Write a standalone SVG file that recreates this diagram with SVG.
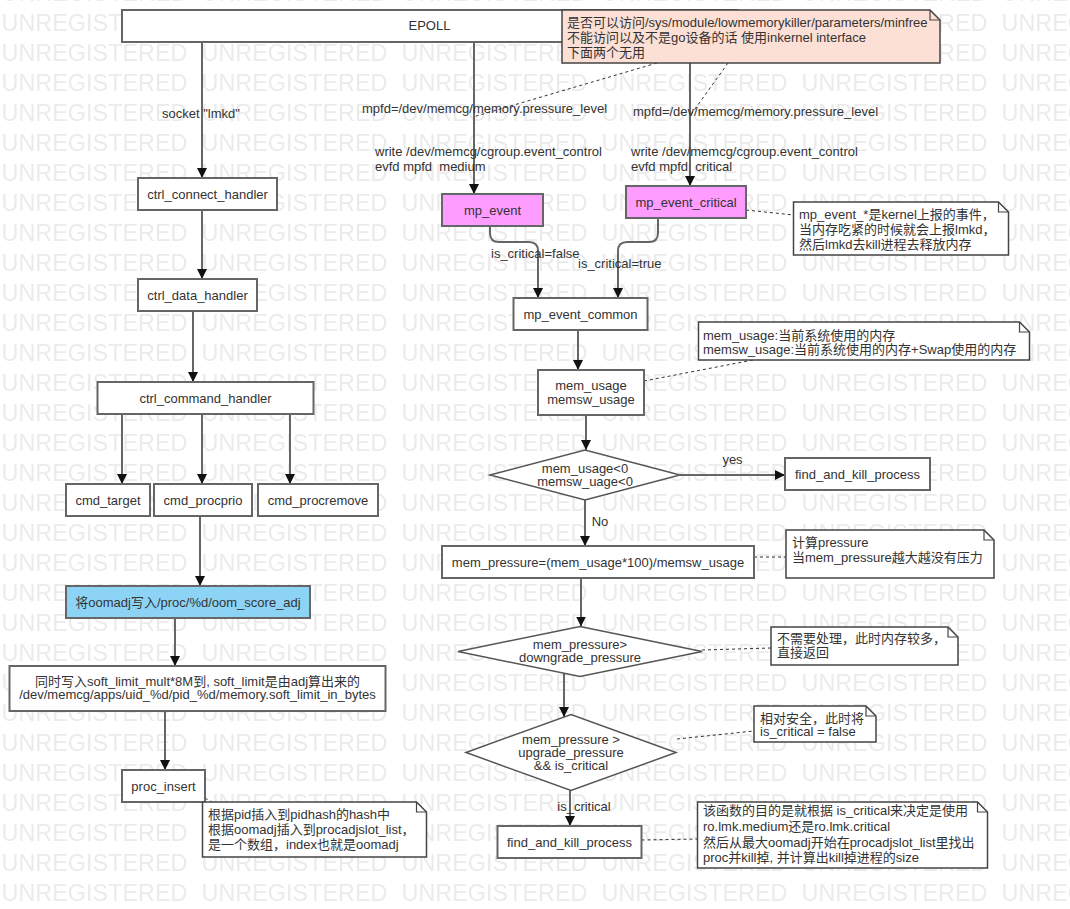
<svg xmlns="http://www.w3.org/2000/svg" width="1070" height="909" viewBox="0 0 1070 909">
<style>
.t{font-family:"Liberation Sans",Arial,"Noto Sans CJK SC",sans-serif;font-size:13px;fill:#333}
.m{text-anchor:middle}
.wmt{font-family:"Liberation Sans",Arial,sans-serif;font-size:23px;fill:#ebebeb}
.box{fill:#fff;stroke:#666;stroke-width:2}
.pink{fill:#ff9cff}
.blue{fill:#8dd3f6}
.note{fill:#fff;stroke:#444;stroke-width:1.5}
.salmon{fill:#fde0d5}
.fold{fill:none;stroke:#444;stroke-width:1.2}
.dia{fill:#fff;stroke:#555;stroke-width:1.5}
.ln{fill:none;stroke:#666;stroke-width:2;marker-end:url(#ah)}
.dash{fill:none;stroke:#333;stroke-width:1;stroke-dasharray:3 3}
</style>
<defs>
<marker id="ah" markerUnits="userSpaceOnUse" markerWidth="10" markerHeight="10" refX="10" refY="5" orient="auto">
<path d="M0,0 L10,5 L0,10 Z" fill="#111"/>
</marker>
<pattern id="wm" x="0" y="9" width="200" height="30" patternUnits="userSpaceOnUse">
<text class="wmt" x="1.5" y="22" textLength="186" lengthAdjust="spacingAndGlyphs">UNREGISTERED</text>
</pattern>
</defs>
<rect width="1070" height="909" fill="#fff"/>
<rect width="1070" height="909" fill="url(#wm)"/>

<g id="connectors">
<path class="ln" d="M202,42 V178"/>
<path class="ln" d="M202,210 V279"/>
<path class="ln" d="M193,311 V382"/>
<path class="ln" d="M122,414 V484"/>
<path class="ln" d="M202,414 V484"/>
<path class="ln" d="M290,414 V484"/>
<path class="ln" d="M200,516 V586"/>
<path class="ln" d="M175,618 V666"/>
<path class="ln" d="M165,711 V770"/>
<path class="dash" d="M205,798 L212,802"/>
<path class="ln" d="M474,42 V194"/>
<path class="ln" d="M690,42 V186"/>
<path class="dash" d="M657,63 L473,117"/>
<path class="dash" d="M728,63 L690,116"/>
<path class="dash" d="M746,210 L793.5,215"/>
<path class="ln" d="M490,226 V233 Q490,242 499,242 H529 Q538,242 538,251 V298"/>
<path class="ln" d="M658,218 V233 Q658,242 649,242 H627 Q618,242 618,251 V298"/>
<path class="ln" d="M578,330 V370"/>
<path class="dash" d="M644,381 L753,360"/>
<path class="ln" d="M586,415 V450"/>
<path class="ln" d="M680,475 H785"/>
<path class="ln" d="M585,500 V546"/>
<path class="dash" d="M754,557 H786"/>
<path class="ln" d="M581,578 V626.5"/>
<path class="dash" d="M702,650 L771,648"/>
<path class="ln" d="M564,673 V717"/>
<path class="dash" d="M677,739 L754,731"/>
<path class="ln" d="M570,790.5 V826"/>
<path class="dash" d="M641.5,840 L697.5,839"/>
<text class="t m" x="201" y="117.5">socket "lmkd"</text>
<text class="t" x="362" y="112.5">mpfd=/dev/memcg/memory.pressure_level</text>
<text class="t" x="375" y="155.5">write /dev/memcg/cgroup.event_control</text>
<text class="t" x="375" y="170.5">evfd mpfd&#160; medium</text>
<text class="t" x="633" y="115.5">mpfd=/dev/memcg/memory.pressure_level</text>
<text class="t" x="631" y="155.5">write /dev/memcg/cgroup.event_control</text>
<text class="t" x="631" y="170.5">evfd mpfd&#160; critical</text>
<text class="t" x="491" y="257.5">is_critical=false</text>
<text class="t" x="578" y="267.5">is_critical=true</text>
<text class="t m" x="732.5" y="463.5">yes</text>
<text class="t m" x="600" y="525.5">No</text>
<text class="t m" x="584" y="811">is_critical</text>
</g>

<g id="epoll"><rect class="box" x="122" y="10" width="615" height="32"/><text class="t m" x="429.5" y="30">EPOLL</text></g>
<g id="note-minfree">
<path class="note salmon" d="M562,10 H930 L940,20 V63 H562 Z"/><path class="fold" d="M930,10 V20 H940"/>
<text class="t" x="567" y="27.2">是否可以访问/sys/module/lowmemorykiller/parameters/minfree</text>
<text class="t" x="567" y="42.2">不能访问以及不是go设备的话 使用inkernel interface</text>
<text class="t" x="567" y="57.2">下面两个无用</text>
</g>
<g id="ctrl-connect-handler"><rect class="box" x="138" y="178" width="139" height="32"/><text class="t m" x="207.5" y="198.5">ctrl_connect_handler</text></g>
<g id="ctrl-data-handler"><rect class="box" x="138" y="279" width="119" height="32"/><text class="t m" x="197.5" y="299.5">ctrl_data_handler</text></g>
<g id="ctrl-command-handler"><rect class="box" x="97.5" y="382" width="216" height="32"/><text class="t m" x="205.5" y="402.5">ctrl_command_handler</text></g>
<g id="cmd-target"><rect class="box" x="66" y="484" width="84" height="32"/><text class="t m" x="108" y="504.5">cmd_target</text></g>
<g id="cmd-procprio"><rect class="box" x="154" y="484" width="98" height="32"/><text class="t m" x="203" y="504.5">cmd_procprio</text></g>
<g id="cmd-procremove"><rect class="box" x="258" y="484" width="120" height="32"/><text class="t m" x="318" y="504.5">cmd_procremove</text></g>
<g id="write-oomadj"><rect class="box blue" x="66" y="586" width="244" height="32"/><text class="t m" x="188" y="606.5">将oomadj写入/proc/%d/oom_score_adj</text></g>
<g id="soft-limit"><rect class="box" x="9.5" y="666" width="376" height="45"/>
<text class="t m" x="197.5" y="686">同时写入soft_limit_mult*8M到, soft_limit是由adj算出来的</text>
<text class="t m" x="197.5" y="699">/dev/memcg/apps/uid_%d/pid_%d/memory.soft_limit_in_bytes</text></g>
<g id="proc-insert"><rect class="box" x="122" y="770" width="83" height="32"/><text class="t m" x="163.5" y="790.5">proc_insert</text></g>
<g id="note-proc-insert">
<path class="note" d="M202.5,802 H416.5 L426.5,812 V857 H202.5 Z"/><path class="fold" d="M416.5,802 V812 H426.5"/>
<text class="t" x="208" y="818.8">根据pid插入到pidhash的hash中</text>
<text class="t" x="208" y="833.8">根据oomadj插入到procadjslot_list，</text>
<text class="t" x="208" y="848.8">是一个数组，index也就是oomadj</text>
</g>
<g id="mp-event"><rect class="box pink" x="442" y="194" width="101" height="32"/><text class="t m" x="492.5" y="214.5">mp_event</text></g>
<g id="mp-event-critical"><rect class="box pink" x="626" y="186" width="120" height="32"/><text class="t m" x="686" y="206.5">mp_event_critical</text></g>
<g id="note-mp-event">
<path class="note" d="M793.5,202 H998.5 L1008.5,212 V255 H793.5 Z"/><path class="fold" d="M998.5,202 V212 H1008.5"/>
<text class="t" x="799" y="218.8">mp_event_*是kernel上报的事件，</text>
<text class="t" x="799" y="233.8">当内存吃紧的时候就会上报lmkd，</text>
<text class="t" x="799" y="248.8">然后lmkd去kill进程去释放内存</text>
</g>
<g id="mp-event-common"><rect class="box" x="513.5" y="298" width="134" height="32"/><text class="t m" x="580.5" y="318.5">mp_event_common</text></g>
<g id="mem-usage"><rect class="box" x="538" y="370" width="106" height="45"/>
<text class="t m" x="591" y="389.5">mem_usage</text><text class="t m" x="591" y="403.5">memsw_usage</text></g>
<g id="note-mem-usage">
<path class="note" d="M698.5,322 H1019.5 L1029.5,332 V360 H698.5 Z"/><path class="fold" d="M1019.5,322 V332 H1029.5"/>
<text class="t" x="703" y="339.5">mem_usage:当前系统使用的内存</text>
<text class="t" x="703" y="353.8">memsw_usage:当前系统使用的内存+Swap使用的内存</text>
</g>
<g id="check-usage"><path class="dia" d="M490,475 L585,450 L680,475 L585,500 Z"/>
<text class="t m" x="585" y="472.8">mem_usage&lt;0</text><text class="t m" x="585" y="486.2">memsw_uage&lt;0</text></g>
<g id="find-and-kill-1"><rect class="box" x="785" y="458" width="145" height="32"/><text class="t m" x="857.5" y="478.5">find_and_kill_process</text></g>
<g id="mem-pressure"><rect class="box" x="442" y="546" width="312" height="32"/><text class="t m" x="598" y="566.5">mem_pressure=(mem_usage*100)/memsw_usage</text></g>
<g id="note-pressure">
<path class="note" d="M786,530 H984 L994,540 V578 H786 Z"/><path class="fold" d="M984,530 V540 H994"/>
<text class="t" x="792" y="546.8">计算pressure</text>
<text class="t" x="792" y="561.8">当mem_pressure越大越没有压力</text>
</g>
<g id="check-downgrade"><path class="dia" d="M458,651.5 L580,626.5 L702,651.5 L580,676.5 Z"/>
<text class="t m" x="580" y="648.8">mem_pressure&gt;</text><text class="t m" x="580" y="662.2">downgrade_pressure</text></g>
<g id="note-downgrade">
<path class="note" d="M771,627 H948 L958,637 V665 H771 Z"/><path class="fold" d="M948,627 V637 H958"/>
<text class="t" x="777" y="642.8">不需要处理，此时内存较多，</text>
<text class="t" x="777" y="657.2">直接返回</text>
</g>
<g id="check-upgrade"><path class="dia" d="M466,752.5 L571,714.5 L676,752.5 L571,790.5 Z"/>
<text class="t m" x="571" y="743.8">mem_pressure &gt;</text><text class="t m" x="571" y="757.2">upgrade_pressure</text><text class="t m" x="571" y="770.2">&amp;&amp; is_critical</text></g>
<g id="note-upgrade">
<path class="note" d="M754,706 H866 L876,716 V742 H754 Z"/><path class="fold" d="M866,706 V716 H876"/>
<text class="t" x="760" y="722.8">相对安全，此时将</text>
<text class="t" x="760" y="736.2">is_critical = false</text>
</g>
<g id="find-and-kill-2"><rect class="box" x="497.5" y="826" width="144" height="32"/><text class="t m" x="569.5" y="846.5">find_and_kill_process</text></g>
<g id="note-find-and-kill">
<path class="note" d="M697.5,802 H977.5 L987.5,812 V868 H697.5 Z"/><path class="fold" d="M977.5,802 V812 H987.5"/>
<text class="t" x="703" y="815.2">该函数的目的是就根据 is_critical来决定是使用</text>
<text class="t" x="703" y="831">ro.lmk.medium还是ro.lmk.critical</text>
<text class="t" x="703" y="846.6">然后从最大oomadj开始在procadjslot_list里找出</text>
<text class="t" x="703" y="862.2">proc并kill掉, 并计算出kill掉进程的size</text>
</g>
</svg>
